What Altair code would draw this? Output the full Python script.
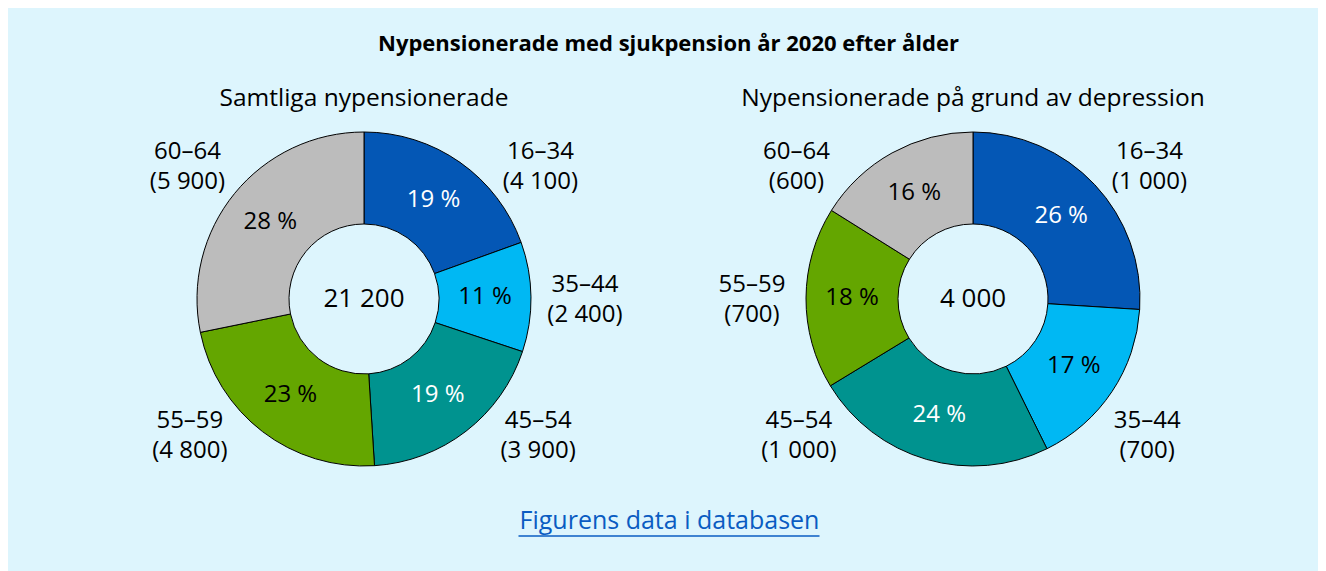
import altair as alt
import pandas as pd

FONT = "Open Sans"
BG = "#ddf5fd"

main_title = "Nypensionerade med sjukpension år 2020 efter ålder"
link_text = "Figurens data i databasen"

ages = ["16–34", "35–44", "45–54", "55–59", "60–64"]
colors = ["#0457b5", "#00b8f3", "#00938f", "#64a600", "#bcbcbc"]

# Left: Samtliga nypensionerade
all_title = "Samtliga nypensionerade"
all_total = "21 200"
all_counts = ["4 100", "2 400", "3 900", "4 800", "5 900"]
all_share = [19.5, 10.6, 18.9, 22.8, 28.2]
all_pct = ["19 %", "11 %", "19 %", "23 %", "28 %"]

# Right: depression
dep_title = "Nypensionerade på grund av depression"
dep_total = "4 000"
dep_counts = ["1 000", "700", "1 000", "700", "600"]
dep_share = [26.0, 16.7, 23.6, 17.6, 16.1]
dep_pct = ["26 %", "17 %", "24 %", "18 %", "16 %"]

W, H = 600, 352
OUTER, INNER = 167, 75


def donut(title, total, counts, share, pct):
    df = pd.DataFrame({
        "age": ages,
        "order": list(range(len(ages))),
        "share": share,
        "pct": pct,
        "label": [f"{a}\n({c})" for a, c in zip(ages, counts)],
    })
    base = alt.Chart(df)
    arcs = base.mark_arc(outerRadius=OUTER, innerRadius=INNER, stroke="black",
                         strokeWidth=1).encode(
        theta=alt.Theta("share:Q", stack=True),
        order=alt.Order("order:Q"),
        color=alt.Color("age:N", scale=alt.Scale(domain=ages, range=colors), legend=None),
    )
    pct_txt = base.mark_text(radius=121, fontSize=24).encode(
        theta=alt.Theta("share:Q", stack=True),
        order=alt.Order("order:Q"),
        text="pct:N",
        color=alt.condition("datum.age == '16–34' || datum.age == '45–54'",
                            alt.value("white"), alt.value("black")),
    )
    lab = base.transform_window(
        cum="sum(share)", sort=[alt.SortField("order")]
    ).transform_joinaggregate(
        tot="sum(share)"
    ).transform_calculate(
        mid="(datum.cum - datum.share / 2) / datum.tot * 360"
    ).transform_calculate(
        lab_angle="abs(datum.mid - 90) < 25 ? 90 : abs(datum.mid - 270) < 25 ? 270 : "
                  "datum.mid < 90 ? 53 : datum.mid < 180 ? 128 : datum.mid < 270 ? 232 : 307"
    ).mark_text(radius=221, fontSize=24, lineBreak="\n", lineHeight=30, dy=-14,
                color="black").encode(
        theta=alt.Theta("lab_angle:Q", scale=alt.Scale(domain=[0, 360]), stack=None),
        text="label:N",
    )
    center = alt.Chart(pd.DataFrame({"t": [total]})).mark_text(
        fontSize=26, color="black").encode(text="t:N")
    return alt.layer(arcs, pct_txt, lab, center).resolve_scale(
        theta="independent"
    ).properties(
        width=W, height=H,
        title=alt.TitleParams(title, fontSize=24.5, fontWeight="normal", offset=12,
                              color="black", font=FONT),
    )


left = donut(all_title, all_total, all_counts, all_share, all_pct)
right = donut(dep_title, dep_total, dep_counts, dep_share, dep_pct)

GW = 2 * W + 9
footer_df = pd.DataFrame({"t": [link_text]})
foot_txt = alt.Chart(footer_df).mark_text(fontSize=25, color="#0a5cc2").encode(
    text="t:N", x=alt.value(GW / 2 + 1), y=alt.value(46))
foot_line = alt.Chart(footer_df).mark_rule(color="#0a5cc2", strokeWidth=1.5).encode(
    x=alt.value(GW / 2 - 150), x2=alt.value(GW / 2 + 151), y=alt.value(61))
footer = alt.layer(foot_txt, foot_line).properties(width=GW, height=92)

chart = alt.vconcat(
    alt.hconcat(left, right, spacing=9),
    footer,
    spacing=0,
).properties(
    title=alt.TitleParams(main_title, fontSize=22, fontWeight="bold", anchor="middle",
                          offset=30, color="black", font=FONT),
    background=BG,
    padding={"left": 56, "right": 45, "top": 24, "bottom": 5},
).configure_view(stroke=None).configure_text(font=FONT).configure_title(font=FONT)

chart.save("out.html", embed_options={"renderer": "svg", "actions": False})
